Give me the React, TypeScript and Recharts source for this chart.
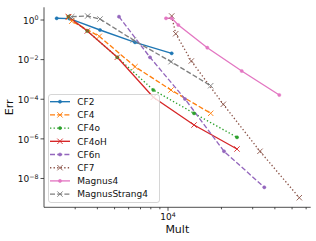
import React from 'react';
import { LineChart, Line, XAxis, YAxis, Legend } from 'recharts';

// ---- data ----
const cf2Mult = [2360, 2790, 4140, 6520, 10490];
const cf2Err = [1.22, 1.17, 0.313, 0.0749, 0.0208];

const cf4Mult = [2760, 2870, 4100, 6520, 10400, 17400];
const cf4Err = [1.4, 0.87, 0.15, 0.00439, 2.93e-4, 1.95e-5];

const cf4oMult = [2745, 3510, 5180, 8265, 14015, 24475];
const cf4oErr = [1.47, 0.278, 0.0131, 2.93e-4, 1.95e-5, 1.2e-6];

const cf4oHMult = [2745, 3510, 5180, 8265, 14015, 24475];
const cf4oHErr = [1.47, 0.278, 0.0131, 1.25e-4, 5.0e-6, 3.08e-7];

const cf6nMult = [5295, 7916, 12467, 20680, 34870];
const cf6nErr = [1.47, 0.0131, 1.03e-4, 2.36e-7, 3.59e-9];

const cf7Mult = [10490, 11050, 13530, 20490, 32970, 54920];
const cf7Err = [1.59, 0.203, 0.00851, 5.56e-5, 2.36e-7, 1.07e-9];

const magnus4Mult = [9744, 10490, 11430, 16650, 26020, 42360];
const magnus4Err = [1.22, 1.22, 0.56, 0.04, 0.00267, 1.64e-4];

const magnusStrang4Mult = [2868, 3528, 4140, 6375, 10400, 17400];
const magnusStrang4Err = [1.47, 1.59, 1.12, 0.0978, 0.00785, 4.83e-4];

const xTicks = [3000, 4000, 5000, 6000, 7000, 8000, 9000, 10000, 20000, 30000, 40000, 50000, 60000];
const yTicks = [1e-8, 1e-6, 1e-4, 1e-2, 1];

const xDomain: [number, number] = [2001.6, 63665];
const yDomain: [number, number] = [3.51e-10, 4.377];

const zip = (xs: number[], ys: number[]) => xs.map((x, i) => ({ x, y: ys[i] }));

type Marker = 'dot' | 'x';
interface Series {
  name: string;
  color: string;
  dash: string | undefined;
  marker: Marker;
  data: { x: number; y: number }[];
}

const DASHED = '5 2.2';
const DOTTED = '1.35 2.2';

const series: Series[] = [
  { name: 'CF2', color: '#1f77b4', dash: undefined, marker: 'dot', data: zip(cf2Mult, cf2Err) },
  { name: 'CF4', color: '#ff7f0e', dash: DASHED, marker: 'x', data: zip(cf4Mult, cf4Err) },
  { name: 'CF4o', color: '#2ca02c', dash: DOTTED, marker: 'dot', data: zip(cf4oMult, cf4oErr) },
  { name: 'CF4oH', color: '#d62728', dash: undefined, marker: 'x', data: zip(cf4oHMult, cf4oHErr) },
  { name: 'CF6n', color: '#9467bd', dash: DASHED, marker: 'dot', data: zip(cf6nMult, cf6nErr) },
  { name: 'CF7', color: '#8c564b', dash: DOTTED, marker: 'x', data: zip(cf7Mult, cf7Err) },
  { name: 'Magnus4', color: '#e377c2', dash: undefined, marker: 'dot', data: zip(magnus4Mult, magnus4Err) },
  { name: 'MagnusStrang4', color: '#7f7f7f', dash: DASHED, marker: 'x', data: zip(magnusStrang4Mult, magnusStrang4Err) },
];

const FONT = 'DejaVu Sans, sans-serif';
const INK = '#111';
const SPINE = '#222';

const MarkerShape = ({ cx, cy, color, marker }: { cx: number; cy: number; color: string; marker: Marker }) => {
  if (marker === 'dot') {
    return <circle cx={cx} cy={cy} r={1.6} fill={color} stroke={color} strokeWidth={0.5} />;
  }
  const s = 2.7;
  return (
    <g stroke={color} strokeWidth={0.9}>
      <line x1={cx - s} y1={cy - s} x2={cx + s} y2={cy + s} />
      <line x1={cx - s} y1={cy + s} x2={cx + s} y2={cy - s} />
    </g>
  );
};

const makeDot = (s: Series) => (p: any) => {
  const { cx, cy, index } = p;
  const key = `${s.name}-${index}`;
  if (cx == null || cy == null || isNaN(cx) || isNaN(cy)) return <g key={key} />;
  return (
    <g key={key}>
      <MarkerShape cx={cx} cy={cy} color={s.color} marker={s.marker} />
    </g>
  );
};

const isMajor = (v: number) => Math.abs(Math.log10(v) - Math.round(Math.log10(v))) < 1e-6;
const expText = (v: number) => {
  const e = Math.round(Math.log10(v));
  return e < 0 ? '\u2212' + String(-e) : String(e);
};

const XTick = (props: any) => {
  const { x, y, payload } = props;
  const v = payload.value;
  const major = isMajor(v);
  return (
    <g>
      <line x1={x} x2={x} y1={y} y2={y + (major ? 3.5 : 2)} stroke={SPINE} strokeWidth={0.8} />
      {major && (
        <text x={x} y={y + 12.7} textAnchor="middle" fontSize={9} fontFamily={FONT} fill={INK}>
          <tspan>10</tspan>
          <tspan dy={-3.5} fontSize={6.3}>{expText(v)}</tspan>
        </text>
      )}
    </g>
  );
};

const YTick = (props: any) => {
  const { x, y, payload } = props;
  const v = payload.value;
  return (
    <g>
      <line x1={x - 3.5} x2={x} y1={y} y2={y} stroke={SPINE} strokeWidth={0.8} />
      <text x={x - 5.5} y={y + 3.8} textAnchor="end" fontSize={9} fontFamily={FONT} fill={INK}>
        <tspan>10</tspan>
        <tspan dy={-3.4} fontSize={6.3}>{expText(v)}</tspan>
      </text>
    </g>
  );
};

const LegendBox = () => (
  <svg width={113} height={110} style={{ display: 'block' }}>
    <rect x={0.5} y={0.5} width={111} height={108} rx={2.5} fill="rgba(255,255,255,0.8)" stroke="#cccccc" strokeWidth={0.8} />
    {series.map((s, i) => {
      const cy = 7.7 + 13.2 * i;
      return (
        <g key={s.name}>
          <line x1={2} x2={22} y1={cy} y2={cy} stroke={s.color} strokeWidth={1.35} strokeDasharray={s.dash} />
          <MarkerShape cx={12} cy={cy} color={s.color} marker={s.marker} />
          <text x={29.3} y={cy + 3.3} fontSize={9} fontFamily={FONT} fill={INK}>
            {s.name}
          </text>
        </g>
      );
    })}
  </svg>
);

export default function App() {
  return (
    <div style={{ position: 'absolute', left: 0, top: 0, width: 316, height: 241, background: '#fff' }}>
      <LineChart width={316} height={241} margin={{ top: 7.3, right: 5.3, bottom: 0, left: 0 }}>
        <XAxis
          dataKey="x"
          type="number"
          scale="log"
          domain={xDomain}
          allowDataOverflow
          ticks={xTicks}
          interval={0}
          tick={<XTick />}
          tickLine={false}
          tickSize={0}
          tickMargin={0}
          height={33.7}
          axisLine={{ stroke: SPINE, strokeWidth: 0.8 }}
          label={() => (
            <text x={177.3} y={232.5} textAnchor="middle" fontSize={11} fontFamily={FONT} fill={INK}>
              Mult
            </text>
          )}
        />
        <XAxis
          xAxisId="top"
          orientation="top"
          type="number"
          domain={[0, 1]}
          height={0}
          tick={false}
          tickLine={false}
          axisLine={{ stroke: SPINE, strokeWidth: 0.8 }}
        />
        <YAxis
          type="number"
          scale="log"
          domain={yDomain}
          allowDataOverflow
          ticks={yTicks}
          interval={0}
          tick={<YTick />}
          tickLine={false}
          tickSize={0}
          tickMargin={0}
          width={44}
          axisLine={{ stroke: SPINE, strokeWidth: 0.8 }}
          label={() => (
            <text
              x={13}
              y={107.3}
              transform="rotate(-90 13 107.3)"
              textAnchor="middle"
              fontSize={11}
              fontFamily={FONT}
              fill={INK}
            >
              Err
            </text>
          )}
        />
        <YAxis
          yAxisId="right"
          orientation="right"
          type="number"
          domain={[0, 1]}
          width={0}
          tick={false}
          tickLine={false}
          axisLine={{ stroke: SPINE, strokeWidth: 0.8 }}
        />
        {series.map((s) => (
          <Line
            key={s.name}
            name={s.name}
            data={s.data}
            dataKey="y"
            type="linear"
            stroke={s.color}
            strokeWidth={1.35}
            strokeDasharray={s.dash}
            dot={makeDot(s)}
            activeDot={false}
            isAnimationActive={false}
          />
        ))}
        <Legend
          layout="vertical"
          align="center"
          verticalAlign="middle"
          content={() => <LegendBox />}
          wrapperStyle={{ position: 'absolute', left: 47.5, top: 93.5, width: 113, height: 110 }}
        />
      </LineChart>
    </div>
  );
}
